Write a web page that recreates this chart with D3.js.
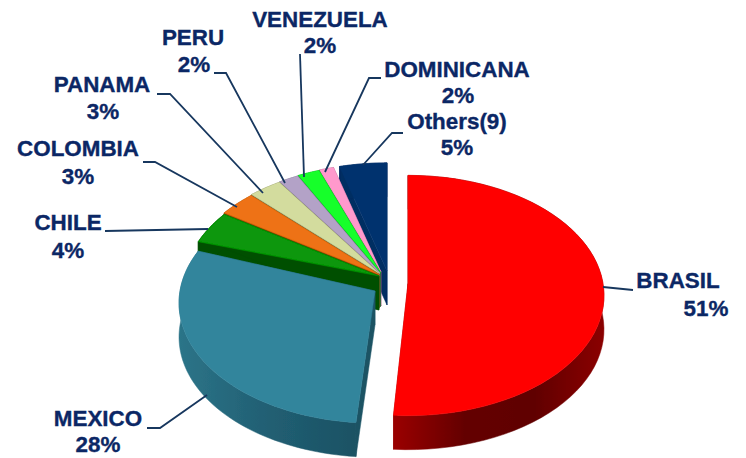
<!DOCTYPE html>
<html>
<head>
<meta charset="utf-8">
<script src="https://cdn.jsdelivr.net/npm/d3@7"></script>
<style>
html, body { margin: 0; background: #fff; }
text { font-family: "Liberation Sans", Arial, sans-serif; font-weight: bold; font-size: 22.4px; fill: #0b2765; stroke: #0b2765; stroke-width: 0.35px; text-anchor: middle; }
</style>
</head>
<body>
<script>
var countries = ["BRASIL", "MEXICO", "CHILE", "COLOMBIA", "PANAMA", "PERU", "VENEZUELA", "DOMINICANA", "Others(9)"];
var percentLabels = ["51%", "28%", "4%", "3%", "3%", "2%", "2%", "2%", "5%"];
// shares estimated from the drawn slices, the printed labels are rounded
var shares = [51.4, 28.4, 4.4, 3.4, 3.0, 1.8, 2.0, 1.3, 4.3];
var topColors = ["#ff0000", "#31859c", "#079707", "#ee7212", "#d3dc9e", "#b3a2c7", "#12ff2c", "#ff99cc", "#04336e"];
var wallColors = ["#8a0000", "#215f73", "#004f00", "#8f4505", "#77794f", "#645a72", "#067a12", "#96587a", "#032d62"];

var width = 746, height = 458;
var radius = 195, tilt = 0.61, perspective = 0.1, depth = 34;

// pie centre of every slice, the slices are pulled apart by hand
var centers = [[408, 283.5], [375, 291], [379, 276], [379, 274.5], [379.5, 273.5], [380, 273], [380.5, 272.5], [381, 272], [387, 271]];
// the Brasil slice stops a little short of Mexico, Mexico reaches a little past Chile (degrees)
var brasilTrim = 1.2, mexicoReach = 3;

// label centre x, baseline of name, baseline of percent
var labelPos = [[678, 288, 706, 316], [98, 426, 98, 452], [68, 230, 68, 258], [78, 156, 78, 184], [102, 92, 103, 119],
    [193, 45, 194, 72], [320, 27, 320, 53], [457, 77, 458, 103], [457, 129, 457, 155]];
var leaders = [
    [[603, 287], [633, 290]],
    [[147, 428], [160, 428], [207, 395]],
    [[105, 231], [208, 229]],
    [[143, 162], [155, 162], [237, 207]],
    [[157, 94], [170, 94], [263, 193]],
    [[214, 73], [226, 73], [285, 183]],
    [[300, 54], [304, 177]],
    [[381, 78], [369, 78], [325, 172]],
    [[403, 133], [392, 133], [363, 165]]
];

var svg = d3.select("body").append("svg")
    .attr("width", width)
    .attr("height", height)
    .style("display", "block");

var defs = svg.append("defs");
defs.append("filter").attr("id", "soft")
    .append("feGaussianBlur").attr("stdDeviation", 0.5);

function wallGradient(id, stops) {
    var g = defs.append("linearGradient").attr("id", id)
        .attr("gradientUnits", "userSpaceOnUse")
        .attr("x1", stops.x1).attr("x2", stops.x2).attr("y1", 0).attr("y2", 0);
    stops.colors.forEach(function(c, i) {
        g.append("stop").attr("offset", i / (stops.colors.length - 1)).attr("stop-color", c);
    });
    return "url(#" + id + ")";
}
var brasilWall = wallGradient("brasilWall", {x1: 395, x2: 603, colors: ["#990000", "#640000", "#600000", "#8a0000"]});
var mexicoWall = wallGradient("mexicoWall", {x1: 180, x2: 355, colors: ["#2c7488", "#215f73", "#1b5264"]});

var pie = d3.pie().sort(null).value(function(d) { return d; });
var arcs = pie(shares);
var line = d3.line();

// disc point to screen, angle clockwise from the back of the pie
function project(c, a) {
    var s = 1 / (1 + perspective * Math.cos(a));
    return [c[0] + radius * Math.sin(a) * s, c[1] - radius * tilt * Math.cos(a) * s];
}

function rimPoints(c, a0, a1) {
    return d3.range(0, 61).map(function(i) {
        return project(c, a0 + (a1 - a0) * i / 60);
    });
}

function dropped(pts) {
    return pts.map(function(p) { return [p[0], p[1] + depth]; }).reverse();
}

var pieGroup = svg.append("g").attr("filter", "url(#soft)");

// painter order, back slices first and the big ones last
[8, 7, 6, 5, 4, 3, 2, 1, 0].forEach(function(i) {
    var c = centers[i], d = arcs[i];
    var a0 = d.startAngle, a1 = d.endAngle;
    if (i == 0) a1 -= brasilTrim * Math.PI / 180;
    if (i == 1) a1 += mexicoReach * Math.PI / 180;
    var rim = rimPoints(c, a0, a1);
    var fill = i == 0 ? brasilWall : i == 1 ? mexicoWall : wallColors[i];
    var startEdge = [c, rim[0]], endEdge = [c, rim[rim.length - 1]];

    [startEdge, endEdge, rim].forEach(function(edge) {
        pieGroup.append("path")
            .attr("d", line(edge.concat(dropped(edge))) + "Z")
            .attr("fill", fill)
            .attr("stroke", fill)
            .attr("stroke-width", 0.5);
    });
    pieGroup.append("path")
        .attr("d", line([c].concat(rim)) + "Z")
        .attr("fill", topColors[i])
        .attr("stroke", topColors[i])
        .attr("stroke-width", 0.5);
});

svg.append("g").selectAll("path").data(leaders).enter().append("path")
    .attr("d", function(d) { return line(d); })
    .attr("fill", "none")
    .attr("stroke", "#17375e")
    .attr("stroke-width", 1.8);

var labels = svg.append("g").selectAll("g").data(countries).enter().append("g");
labels.append("text")
    .attr("x", function(d, i) { return labelPos[i][0]; })
    .attr("y", function(d, i) { return labelPos[i][1]; })
    .text(function(d) { return d; });
labels.append("text")
    .attr("x", function(d, i) { return labelPos[i][2]; })
    .attr("y", function(d, i) { return labelPos[i][3]; })
    .text(function(d, i) { return percentLabels[i]; });
</script>
</body>
</html>
